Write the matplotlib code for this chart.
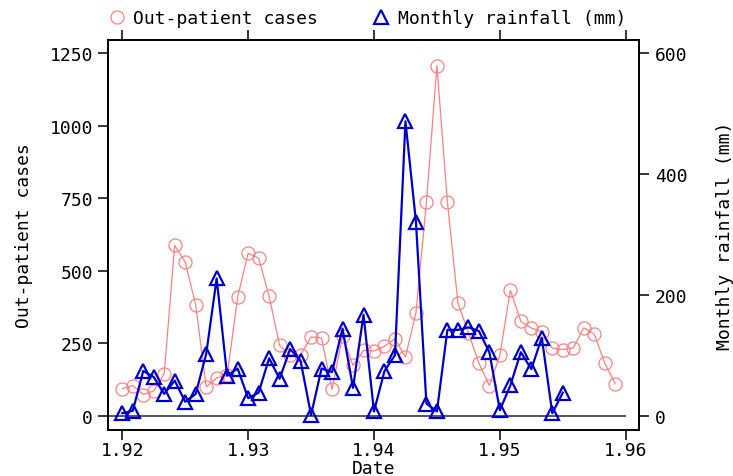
import matplotlib
matplotlib.use("Agg")
import matplotlib.pyplot as plt
from matplotlib.lines import Line2D

# ---- data ----
n_months_cases = 48
dates_cases = [1.92 + m / 1200 for m in range(n_months_cases)]
cases = [93, 104, 73, 85, 145, 587, 529, 382, 99, 130, 139, 409,
         560, 543, 412, 242, 208, 210, 271, 268, 91, 274, 173, 225,
         223, 239, 265, 202, 354, 736, 1206, 736, 389, 286, 181, 104,
         208, 432, 325, 302, 290, 233, 228, 233, 303, 282, 181, 110]

rainfall = [4, 8, 74, 64, 36, 58, 23, 36, 102, 227, 66, 78,
            29, 38, 95, 61, 110, 91, 1, 78, 72, 144, 46, 167,
            7, 74, 100, 487, 321, 20, 7, 142, 142, 146, 140, 105,
            9, 50, 105, 77, 129, 4, 38]
dates_rain = dates_cases[:len(rainfall)]

x_ticks = [1.92, 1.93, 1.94, 1.95, 1.96]
x_ticklabels = ["1.92", "1.93", "1.94", "1.95", "1.96"]
left_ticks = [0, 250, 500, 750, 1000, 1250]
right_ticks = [0, 200, 400, 600]

FONT = "DejaVu Sans Mono"
FS = 13
plt.rcParams['font.family'] = FONT

RED = "#ff8080"
BLUE = "#0000cc"

fig = plt.figure(figsize=(7.33, 4.77), dpi=100)
ax = fig.add_axes([108.3 / 733, 1 - 430.7 / 477, (639.3 - 108.3) / 733, (430.7 - 40.7) / 477])
ax2 = ax.twinx()

xlim = (1.91889, 1.96108)
ax.set_xlim(*xlim)
ax.set_ylim(-48.3, 1295.8)
ax2.set_ylim(-23.2, 622.0)

# zero reference line
ax.hlines(0, xlim[0], 1.96, color="#555555", lw=1.4, zorder=1)

ax.plot(dates_cases, cases, color=RED, lw=0.9, marker='o', ms=9.4,
        mfc='none', mec=RED, mew=0.9, zorder=2)
ax2.plot(dates_rain, rainfall, color=BLUE, lw=1.6, marker='^', ms=10,
         mfc='none', mec=BLUE, mew=1.6, zorder=3)

for a in (ax, ax2):
    for s in a.spines.values():
        s.set_linewidth(1.2)
        s.set_color("black")

ax.set_xticks(x_ticks)
ax.set_xticklabels(x_ticklabels)
ax.set_yticks(left_ticks)
ax.set_yticklabels([str(t) for t in left_ticks])
ax2.set_yticks(right_ticks)
ax2.set_yticklabels([str(t) for t in right_ticks])

ax.tick_params(axis='x', which='both', direction='out', length=7, width=1.1,
               top=True, labeltop=False, labelsize=FS, pad=1)
ax.tick_params(axis='y', direction='out', length=7, width=1.1, labelsize=FS, pad=4)
ax2.tick_params(axis='y', direction='out', length=7, width=1.1, labelsize=FS, pad=4)
ax2.tick_params(axis='x', top=False, bottom=False)

ax.set_xlabel("Date", fontsize=FS, labelpad=0)
ax.set_ylabel("Out-patient cases", fontsize=FS, labelpad=12)
ax2.set_ylabel("Monthly rainfall (mm)", fontsize=FS, labelpad=21)

handles = [
    Line2D([], [], ls='none', marker='o', ms=9.4, mfc='none', mec=RED, mew=0.9),
    Line2D([], [], ls='none', marker='^', ms=10, mfc='none', mec=BLUE, mew=1.6),
]
fig.legend(handles, ["Out-patient cases", "Monthly rainfall (mm)"],
           loc='center', bbox_to_anchor=(367 / 733, 1 - 19 / 477), ncol=2,
           frameon=False, fontsize=FS, handlelength=1.0, handletextpad=0.4,
           columnspacing=3.0, borderpad=0)

fig.savefig("out.png", dpi=100)
